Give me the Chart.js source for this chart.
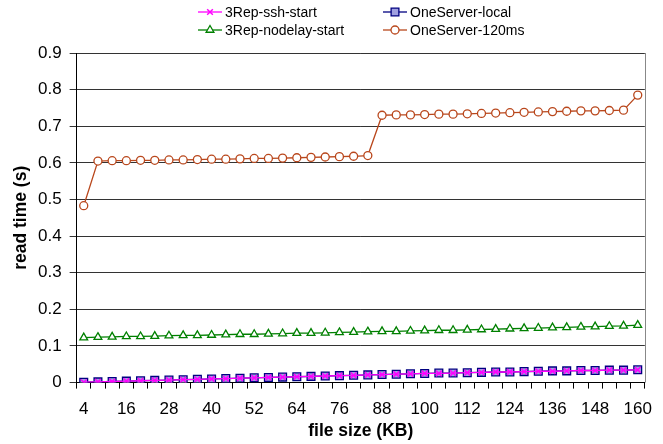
<!DOCTYPE html>
<html>
<head>
<meta charset="utf-8">
<script src="https://cdn.jsdelivr.net/npm/chart.js@4/dist/chart.umd.min.js"></script>
<style>
  body { margin: 0; background: #fff; }
</style>
</head>
<body>
<canvas id="myChart" width="663" height="444"></canvas>
<script>
// file sizes in KB
const fileSizes = [4, 8, 12, 16, 20, 24, 28, 32, 36, 40, 44, 48, 52, 56, 60, 64, 68, 72, 76, 80,
  84, 88, 92, 96, 100, 104, 108, 112, 116, 120, 124, 128, 132, 136, 140, 144, 148, 152, 156, 160]

// read times in seconds
const sshStart = [0.001, 0.002, 0.003, 0.004, 0.005, 0.006, 0.007, 0.008, 0.009, 0.010,
  0.011, 0.012, 0.013, 0.014, 0.015, 0.016, 0.017, 0.018, 0.019, 0.020,
  0.021, 0.022, 0.023, 0.024, 0.025, 0.025, 0.026, 0.027, 0.028, 0.029,
  0.029, 0.030, 0.031, 0.031, 0.032, 0.033, 0.033, 0.034, 0.034, 0.035]
const oneServerLocal = [0.001, 0.002, 0.003, 0.004, 0.005, 0.006, 0.007, 0.008, 0.009, 0.010,
  0.011, 0.012, 0.013, 0.014, 0.015, 0.016, 0.017, 0.018, 0.019, 0.020,
  0.021, 0.022, 0.023, 0.024, 0.025, 0.026, 0.026, 0.027, 0.028, 0.029,
  0.029, 0.030, 0.031, 0.032, 0.032, 0.033, 0.033, 0.034, 0.034, 0.035]
const nodelayStart = [0.123, 0.124, 0.125, 0.126, 0.126, 0.127, 0.128, 0.129, 0.129, 0.130,
  0.131, 0.132, 0.132, 0.133, 0.134, 0.135, 0.135, 0.136, 0.137, 0.138,
  0.139, 0.140, 0.140, 0.141, 0.142, 0.143, 0.143, 0.144, 0.145, 0.146,
  0.147, 0.148, 0.149, 0.150, 0.151, 0.152, 0.153, 0.154, 0.155, 0.157]
const oneServer120 = [0.483, 0.605, 0.606, 0.606, 0.607, 0.607, 0.608, 0.608, 0.609, 0.610,
  0.610, 0.611, 0.612, 0.612, 0.613, 0.614, 0.615, 0.616, 0.617, 0.618,
  0.620, 0.730, 0.731, 0.731, 0.732, 0.733, 0.733, 0.734, 0.735, 0.736,
  0.737, 0.738, 0.739, 0.740, 0.741, 0.742, 0.742, 0.743, 0.744, 0.785]

const seriesNames = ["3Rep-ssh-start", "OneServer-local", "3Rep-nodelay-start", "OneServer-120ms"]

Chart.defaults.font.family = "'Liberation Sans', Arial, sans-serif"
Chart.defaults.color = "#000"

// legend in two columns like the original
const twoColLegend = {
  id: "twoColLegend",
  afterDraw(chart) {
    const ctx = chart.ctx
    const cols = [198, 383]
    const rows = [12, 30]
    ctx.save()
    ctx.font = "14px 'Liberation Sans', Arial, sans-serif"
    ctx.textBaseline = "middle"
    ctx.fillStyle = "#000"
    chart.data.datasets.forEach((ds, i) => {
      const x = cols[i % 2]
      const y = rows[Math.floor(i / 2)]
      ctx.strokeStyle = ds.borderColor
      ctx.lineWidth = 1.3
      ctx.beginPath()
      ctx.moveTo(x, y)
      ctx.lineTo(x + 24, y)
      ctx.stroke()
      ctx.fillStyle = ds.pointBackgroundColor
      ctx.strokeStyle = ds.pointBorderColor
      ctx.lineWidth = ds.pointBorderWidth
      Chart.helpers.drawPoint(ctx, {pointStyle: ds.pointStyle, radius: ds.pointRadius, rotation: 0, borderWidth: ds.pointBorderWidth}, x + 12, y)
      ctx.fillStyle = "#000"
      ctx.fillText(ds.label, x + 27, y + 1)
    })
    ctx.restore()
  }
}

// grey frame on the right side of the plot
const rightBorder = {
  id: "rightBorder",
  beforeDatasetsDraw(chart) {
    const a = chart.chartArea
    const ctx = chart.ctx
    ctx.save()
    ctx.strokeStyle = "#888"
    ctx.lineWidth = 1
    ctx.beginPath()
    ctx.moveTo(Math.round(a.right) + 0.5, a.top)
    ctx.lineTo(Math.round(a.right) + 0.5, a.bottom)
    ctx.stroke()
    ctx.restore()
  }
}

new Chart("myChart", {
  type: "line",
  data: {
    labels: fileSizes,
    datasets: [
      {
        label: seriesNames[0],
        data: sshStart,
        borderColor: "#FF00FF",
        borderWidth: 1.3,
        pointStyle: "crossRot",
        pointRadius: 4,
        pointBackgroundColor: "#FF00FF",
        pointBorderColor: "#FF00FF",
        pointBorderWidth: 1.5
      },
      {
        label: seriesNames[1],
        data: oneServerLocal,
        borderColor: "#000080",
        borderWidth: 1.3,
        pointStyle: "rect",
        pointRadius: 5.5,
        pointBackgroundColor: "#A0A0E0",
        pointBorderColor: "#000080",
        pointBorderWidth: 1.3
      },
      {
        label: seriesNames[2],
        data: nodelayStart,
        borderColor: "#008000",
        borderWidth: 1.3,
        pointStyle: "triangle",
        pointRadius: 4.5,
        pointBackgroundColor: "#FFFFFF",
        pointBorderColor: "#008000",
        pointBorderWidth: 1.3
      },
      {
        label: seriesNames[3],
        data: oneServer120,
        borderColor: "#B9471C",
        borderWidth: 1.3,
        pointStyle: "circle",
        pointRadius: 4,
        pointBackgroundColor: "#FFFFFF",
        pointBorderColor: "#B9471C",
        pointBorderWidth: 1.3
      }
    ]
  },
  options: {
    responsive: false,
    animation: false,
    layout: {padding: {top: 53, left: 11, right: 6, bottom: 2}},
    plugins: {
      legend: {display: false},
      tooltip: {enabled: false}
    },
    scales: {
      x: {
        offset: true,
        grid: {offset: true, drawOnChartArea: false, tickLength: 6, color: "#000"},
        border: {color: "#000", width: 1},
        ticks: {
          autoSkip: false,
          maxRotation: 0,
          padding: 11,
          font: {size: 17},
          callback: function (val, i) {
            return i % 3 === 0 ? String(fileSizes[i]) : ""
          }
        },
        title: {display: true, text: "file size (KB)", font: {size: 17.5, weight: "bold"}, padding: {top: -10, bottom: 0}}
      },
      y: {
        min: 0,
        max: 0.9,
        grid: {color: "#333", tickLength: 7},
        border: {color: "#000", width: 1},
        ticks: {stepSize: 0.1, padding: 8, font: {size: 17}},
        title: {display: true, text: "read time (s)", font: {size: 17.5, weight: "bold"}, padding: {top: 0, bottom: -2}}
      }
    }
  },
  plugins: [twoColLegend, rightBorder]
})
</script>
</body>
</html>
